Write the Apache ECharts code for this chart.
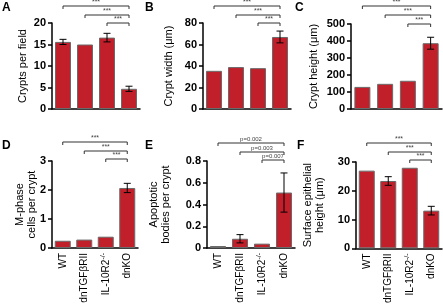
<!DOCTYPE html>
<html>
<head>
<meta charset="utf-8">
<script src="https://cdn.jsdelivr.net/npm/echarts@6/dist/echarts.min.js"></script>
<style>
  html, body { margin: 0; padding: 0; background: #fff; }
  #runChart { width: 443px; height: 306px; }
</style>
</head>
<body>
<div id="runChart"></div>
<script>
// mouse genotypes, same order in every panel
const groups = ["WT", "dnTGFβRII", "IL-10R2-/-", "dnKO"];

// A - crypts per field
const cryptsPerField = [15.6, 15.0, 16.6, 4.7];
const cryptsPerFieldErr = [0.6, 0, 1.0, 0.6];
// B - crypt width (um)
const cryptWidth = [35.5, 39, 38, 67];
const cryptWidthErr = [0, 0, 0, 5.5];
// C - crypt height (um)
const cryptHeight = [130, 148, 166, 387];
const cryptHeightErr = [0, 0, 0, 35];
// D - M-phase cells per crypt
const mPhase = [0.25, 0.29, 0.39, 2.07];
const mPhaseErr = [0, 0, 0, 0.16];
// E - apoptotic bodies per crypt
const apoptotic = [0.018, 0.085, 0.04, 0.51];
const apoptoticErr = [0, 0.038, 0, 0.18];
// F - surface epithelial height (um)
const surfaceHeight = [27, 23.4, 28, 13.1];
const surfaceHeightErr = [0, 1.5, 0, 1.5];

// significance brackets: each group compared to dnKO
const comparisons = [[0, 3], [1, 3], [2, 3]];
const stars = ["***", "***", "***"];
const apoptoticP = ["p=0.002", "p=0.003", "p=0.007"];

const panels = [
  { letter: "A", name: "Crypts per field", values: cryptsPerField, err: cryptsPerFieldErr, max: 20, interval: 5, sig: stars },
  { letter: "B", name: "Crypt width (μm)", values: cryptWidth, err: cryptWidthErr, max: 80, interval: 20, sig: stars },
  { letter: "C", name: "Crypt height (μm)", values: cryptHeight, err: cryptHeightErr, max: 500, interval: 100, sig: stars },
  { letter: "D", name: "M-phase\ncells per crypt", values: mPhase, err: mPhaseErr, max: 3, interval: 1, sig: stars },
  { letter: "E", name: "Apoptotic\nbodies per crypt", values: apoptotic, err: apoptoticErr, max: 0.8, interval: 0.2, sig: apoptoticP },
  { letter: "F", name: "Surface epithelial\nheight (μm)", values: surfaceHeight, err: surfaceHeightErr, max: 30, interval: 10, sig: stars }
];

// pixel layout of each panel
const layout = [
  { left: 52, top: 23, width: 88, height: 86, gap: 23, lx: 2, ly: 2, br: [-17, -8, 0], labels: false },
  { left: 203, top: 23, width: 88, height: 86, gap: 28, lx: 145, ly: 2, br: [-17, -8, 0], labels: false },
  { left: 351, top: 24, width: 91, height: 85, gap: 31, lx: 295, ly: 2, br: [-18, -9, 0], labels: false },
  { left: 52, top: 161, width: 86, height: 87, gap: 14, lx: 2, ly: 140, br: [-19, -10, -2], labels: true },
  { left: 207, top: 161, width: 88, height: 87, gap: 35, lx: 145, ly: 140, br: [-18, -9, -1], labels: true },
  { left: 356, top: 162, width: 86, height: 87, gap: 30, lx: 297, ly: 140, br: [-19, -10, -2], labels: true }
];

let grid = [], xAxis = [], yAxis = [], series = [], graphic = [];

panels.forEach(function (p, k) {
  const lay = layout[k];
  grid.push({ left: lay.left, top: lay.top, width: lay.width, height: lay.height });
  xAxis.push({
    type: "category",
    gridIndex: k,
    data: groups,
    axisLine: { lineStyle: { color: "#000", width: 1.5 } },
    axisTick: { show: false },
    axisLabel: {
      show: lay.labels,
      rotate: 90,
      margin: 5,
      fontSize: 10,
      color: "#000",
      fontFamily: "Liberation Sans",
      formatter: function (v) {
        return v === "IL-10R2-/-" ? "IL-10R2{sup|-/-}" : v;
      },
      rich: { sup: { fontSize: 7, verticalAlign: "top", padding: [0, 0, 6, 0] } }
    }
  });
  yAxis.push({
    type: "value",
    gridIndex: k,
    min: 0,
    max: p.max,
    interval: p.interval,
    name: p.name,
    nameLocation: "middle",
    nameGap: lay.gap,
    nameMoveOverlap: false,
    nameTextStyle: { fontSize: 11, color: "#000", fontFamily: "Liberation Sans", lineHeight: 12 },
    axisLine: { show: true, lineStyle: { color: "#000", width: 1.5 } },
    axisTick: { show: true, length: 4, lineStyle: { color: "#000", width: 1.5 } },
    axisLabel: { fontSize: 11, fontWeight: "bold", color: "#000", margin: 6, fontFamily: "Liberation Sans" },
    splitLine: { show: false }
  });
  series.push({
    type: "bar",
    xAxisIndex: k,
    yAxisIndex: k,
    data: p.values,
    barWidth: 16,
    itemStyle: { color: "#c1202b", borderColor: "#6a6a6a", borderWidth: 1 },
    silent: true
  });
  series.push({
    type: "custom",
    xAxisIndex: k,
    yAxisIndex: k,
    z: 5,
    encode: { x: 0, y: 1 },
    data: p.values.map(function (v, i) { return [i, v, p.err[i]]; }),
    renderItem: function (params, api) {
      const e = api.value(2);
      if (!e) return null;
      const x = api.coord([api.value(0), 0])[0];
      const hi = api.coord([api.value(0), api.value(1) + e])[1];
      const lo = api.coord([api.value(0), api.value(1) - e])[1];
      const st = { stroke: "#000", lineWidth: 1 };
      return {
        type: "group",
        children: [
          { type: "line", shape: { x1: x, y1: hi, x2: x, y2: lo }, style: st },
          { type: "line", shape: { x1: x - 3.5, y1: hi, x2: x + 3.5, y2: hi }, style: st },
          { type: "line", shape: { x1: x - 3.5, y1: lo, x2: x + 3.5, y2: lo }, style: st }
        ]
      };
    }
  });
  series.push({
    type: "custom",
    xAxisIndex: k,
    yAxisIndex: k,
    z: 5,
    clip: false,
    encode: { x: [0, 1] },
    data: comparisons,
    renderItem: function (params, api) {
      const x1 = api.coord([api.value(0), 0])[0];
      const x2 = api.coord([api.value(1), 0])[0];
      const y = params.coordSys.y + lay.br[params.dataIndex];
      return {
        type: "group",
        children: [
          {
            type: "polyline",
            shape: { points: [[x1, y + 3], [x1, y], [x2, y], [x2, y + 3]] },
            style: { stroke: "#333", lineWidth: 1, fill: null }
          },
          {
            type: "text",
            x: (x1 + x2) / 2,
            y: y - 0.5,
            style: {
              text: p.sig[params.dataIndex],
              fontSize: p.letter === "E" ? 6 : 7,
              fill: "#444",
              align: "center",
              verticalAlign: "bottom",
              fontFamily: "Liberation Sans"
            }
          }
        ]
      };
    }
  });
  graphic.push({
    type: "text",
    left: lay.lx,
    top: lay.ly,
    style: { text: p.letter, fontSize: 12, fontWeight: "bold", fill: "#000", fontFamily: "Liberation Sans" }
  });
});

const option = {
  animation: false,
  grid: grid,
  xAxis: xAxis,
  yAxis: yAxis,
  series: series,
  graphic: graphic
};

var myChart = echarts.init(document.getElementById("runChart"));
myChart.setOption(option);
</script>
</body>
</html>
